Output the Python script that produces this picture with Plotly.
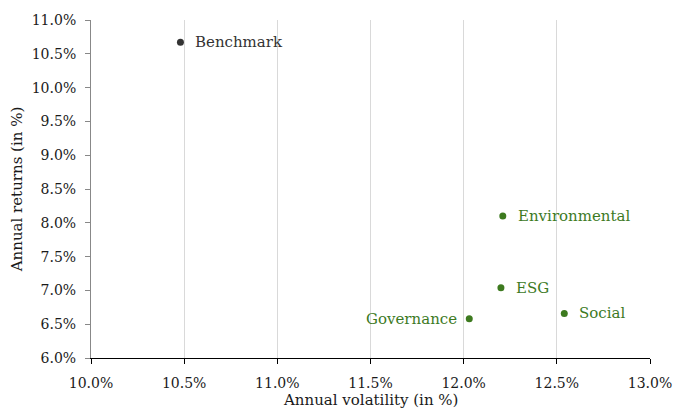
import plotly.graph_objects as go

# Risk / return of the benchmark and the ESG pillar portfolios
names = ["Benchmark", "Environmental", "ESG", "Social", "Governance"]
volatility = [10.48, 12.21, 12.20, 12.54, 12.03]
returns = [10.67, 8.10, 7.04, 6.66, 6.58]
colors = ["#333333", "#3d7a1f", "#3d7a1f", "#3d7a1f", "#3d7a1f"]
label_side = ["right", "right", "right", "right", "left"]

x_ticks = [10.0, 10.5, 11.0, 11.5, 12.0, 12.5, 13.0]
y_ticks = [6.0, 6.5, 7.0, 7.5, 8.0, 8.5, 9.0, 9.5, 10.0, 10.5, 11.0]

FONT = "DejaVu Serif"
TEXT = "#1a1a1a"

fig = go.Figure()
fig.add_trace(go.Scatter(
    x=volatility, y=returns, mode="markers",
    marker=dict(size=7, color=colors),
    hoverinfo="skip", showlegend=False,
))

for n, xv, yv, c, side in zip(names, volatility, returns, colors, label_side):
    fig.add_annotation(
        x=xv, y=yv, text=n, showarrow=False,
        xanchor="left" if side == "right" else "right",
        yanchor="middle",
        xshift=13 if side == "right" else -10,
        font=dict(family=FONT, size=15, color=c),
    )

# x-axis title placed close to the bottom edge of the page
fig.add_annotation(
    x=0.5, y=0, xref="paper", yref="paper",
    text="Annual volatility (in %)", showarrow=False,
    xanchor="center", yanchor="middle", yshift=-42,
    font=dict(family=FONT, size=15, color=TEXT),
)

fig.update_xaxes(
    range=[10.0, 13.0], tickvals=x_ticks,
    ticktext=[f"{v:.1f}%" for v in x_ticks],
    showgrid=True, gridcolor="#d9d9d9", gridwidth=1,
    showline=True, linecolor="#000000", linewidth=1,
    ticks="outside", ticklen=5, tickcolor="#000000",
    ticklabelstandoff=7,
    zeroline=False,
    tickfont=dict(family=FONT, size=14, color=TEXT),
)
fig.update_yaxes(
    range=[6.0, 11.0], tickvals=y_ticks,
    ticktext=[f"{v:.1f}%" for v in y_ticks],
    showgrid=False,
    showline=True, linecolor="#888888", linewidth=1,
    ticks="outside", ticklen=5, tickcolor="#888888",
    ticklabelstandoff=6,
    zeroline=False,
    tickfont=dict(family=FONT, size=14, color=TEXT),
    title=dict(text="Annual returns (in %)", standoff=5,
               font=dict(family=FONT, size=15, color=TEXT)),
)

fig.update_layout(
    width=675, height=410,
    margin=dict(l=91, r=25, t=20, b=52, autoexpand=False),
    plot_bgcolor="white", paper_bgcolor="white",
)

fig.write_html("out.html")
